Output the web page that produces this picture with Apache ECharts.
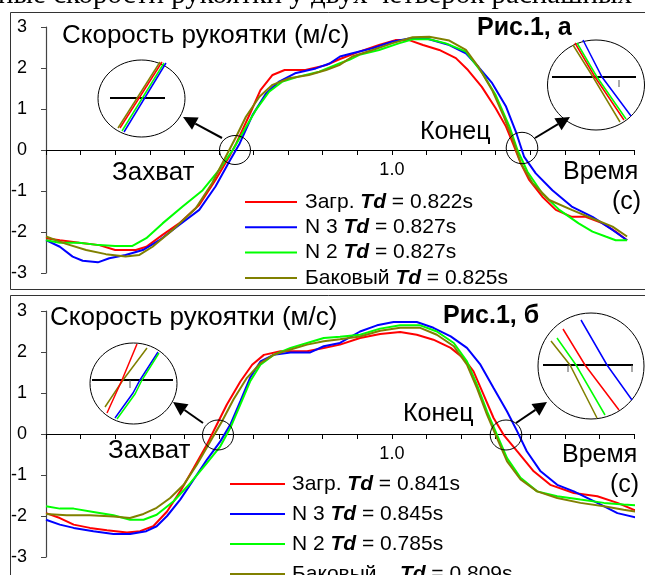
<!DOCTYPE html>
<html><head><meta charset="utf-8">
<script src="https://cdn.jsdelivr.net/npm/echarts/dist/echarts.min.js"></script>
<style>html,body{margin:0;padding:0;background:#fff}#c{width:645px;height:575px}</style>
</head><body><div id="c"></div>
<script>
// ---------- data ----------
const seriesNames = ['Загр.', 'N 3', 'N 2', 'Баковый'];
const seriesColors = ['#ff0000', '#0000ff', '#00ff00', '#808000'];
const tdA = ['0.822s', '0.827s', '0.827s', '0.825s'];
const tdB = ['0.841s', '0.845s', '0.785s', '0.809s'];
const xLabelShown = 1.0;
const yRange = [-3, 3];
const xRange = [0, 1.7];

// Рис.1, а  [time s, velocity m/s]
const a_zagr = [[0,-2.15],[0.04,-2.2],[0.096,-2.26],[0.154,-2.32],[0.2,-2.44],[0.26,-2.44],[0.29,-2.36],[0.337,-2.07],[0.385,-1.79],[0.443,-1.34],[0.49,-0.73],[0.53,-0.16],[0.55,0.16],[0.59,0.89],[0.62,1.46],[0.655,1.83],[0.69,1.95],[0.75,1.95],[0.81,2.07],[0.85,2.22],[0.906,2.4],[0.963,2.56],[1.01,2.68],[1.05,2.68],[1.09,2.56],[1.137,2.44],[1.185,2.24],[1.22,1.95],[1.26,1.54],[1.3,1.02],[1.33,0.57],[1.35,0.16],[1.373,-0.33],[1.397,-0.73],[1.435,-1.14],[1.474,-1.46],[1.52,-1.63],[1.56,-1.63],[1.61,-1.79],[1.647,-1.99],[1.68,-2.2]];
const a_n3 = [[0,-2.2],[0.04,-2.36],[0.077,-2.6],[0.106,-2.7],[0.15,-2.74],[0.183,-2.64],[0.23,-2.56],[0.28,-2.44],[0.328,-2.2],[0.385,-1.83],[0.443,-1.46],[0.49,-0.89],[0.53,-0.28],[0.56,0.16],[0.597,0.85],[0.636,1.38],[0.674,1.67],[0.72,1.87],[0.78,1.99],[0.82,2.11],[0.85,2.28],[0.886,2.36],[0.944,2.48],[1.0,2.64],[1.05,2.72],[1.1,2.72],[1.166,2.56],[1.214,2.36],[1.25,2.03],[1.29,1.63],[1.33,1.06],[1.36,0.41],[1.382,-0.16],[1.416,-0.57],[1.464,-0.98],[1.52,-1.38],[1.58,-1.63],[1.638,-1.95],[1.68,-2.2]];
const a_n2 = [[0,-2.2],[0.04,-2.26],[0.096,-2.26],[0.154,-2.32],[0.2,-2.34],[0.25,-2.34],[0.29,-2.15],[0.337,-1.79],[0.395,-1.38],[0.453,-0.98],[0.5,-0.49],[0.54,0],[0.568,0.41],[0.607,0.98],[0.645,1.42],[0.684,1.67],[0.73,1.79],[0.79,1.91],[0.848,2.11],[0.877,2.2],[0.906,2.32],[0.963,2.44],[1.02,2.6],[1.06,2.7],[1.108,2.7],[1.156,2.6],[1.214,2.4],[1.262,1.87],[1.3,1.34],[1.34,0.57],[1.363,0],[1.392,-0.53],[1.435,-1.06],[1.484,-1.46],[1.54,-1.79],[1.58,-1.99],[1.618,-2.11],[1.647,-2.2],[1.68,-2.2]];
const a_bak = [[0,-2.11],[0.058,-2.29],[0.116,-2.44],[0.173,-2.54],[0.23,-2.6],[0.27,-2.56],[0.308,-2.36],[0.366,-1.95],[0.433,-1.42],[0.48,-0.81],[0.52,-0.16],[0.55,0.33],[0.578,0.81],[0.617,1.3],[0.655,1.59],[0.703,1.75],[0.76,1.83],[0.81,1.95],[0.848,2.07],[0.886,2.28],[0.944,2.44],[1.0,2.6],[1.06,2.75],[1.108,2.76],[1.166,2.67],[1.214,2.44],[1.25,2.03],[1.29,1.46],[1.324,0.81],[1.35,0.24],[1.373,-0.33],[1.407,-0.81],[1.455,-1.22],[1.52,-1.46],[1.58,-1.67],[1.638,-1.87],[1.68,-2.11]];

// Рис.1, б
const b_zagr = [[0,-1.93],[0.04,-2.05],[0.08,-2.21],[0.127,-2.29],[0.176,-2.35],[0.234,-2.4],[0.272,-2.37],[0.31,-2.25],[0.35,-1.89],[0.388,-1.4],[0.427,-0.83],[0.465,-0.26],[0.494,0.23],[0.523,0.72],[0.562,1.28],[0.596,1.69],[0.63,1.93],[0.678,2.02],[0.755,2.02],[0.803,2.1],[0.85,2.18],[0.908,2.34],[0.966,2.44],[1.024,2.49],[1.072,2.42],[1.12,2.3],[1.17,2.1],[1.207,1.85],[1.236,1.53],[1.265,0.96],[1.294,0.39],[1.323,-0.02],[1.362,-0.42],[1.41,-0.91],[1.458,-1.24],[1.526,-1.44],[1.594,-1.52],[1.652,-1.68],[1.7,-1.85],[1.734,-1.93]];
const b_n3 = [[0,-2.09],[0.04,-2.21],[0.08,-2.29],[0.137,-2.37],[0.195,-2.44],[0.243,-2.44],[0.29,-2.37],[0.32,-2.25],[0.35,-2.0],[0.388,-1.6],[0.427,-1.11],[0.465,-0.63],[0.504,-0.18],[0.533,0.23],[0.562,0.8],[0.59,1.37],[0.62,1.77],[0.658,1.93],[0.707,1.99],[0.764,1.99],[0.803,2.14],[0.85,2.22],[0.908,2.5],[0.957,2.65],[1.005,2.73],[1.072,2.73],[1.12,2.59],[1.17,2.38],[1.217,2.1],[1.256,1.69],[1.294,1.12],[1.333,0.55],[1.362,0.07],[1.39,-0.42],[1.43,-0.91],[1.478,-1.24],[1.526,-1.4],[1.594,-1.68],[1.652,-1.93],[1.734,-2.09]];
const b_n2 = [[0,-1.76],[0.04,-1.82],[0.08,-1.82],[0.137,-1.9],[0.195,-1.98],[0.243,-2.09],[0.282,-2.09],[0.32,-1.97],[0.369,-1.64],[0.417,-1.2],[0.465,-0.71],[0.504,-0.3],[0.533,0.15],[0.562,0.72],[0.59,1.28],[0.62,1.69],[0.658,1.93],[0.707,2.1],[0.755,2.22],[0.803,2.34],[0.85,2.37],[0.908,2.42],[0.966,2.57],[1.024,2.65],[1.082,2.65],[1.13,2.5],[1.179,2.22],[1.217,1.77],[1.246,1.2],[1.275,0.55],[1.304,-0.02],[1.333,-0.59],[1.372,-1.07],[1.42,-1.4],[1.478,-1.52],[1.545,-1.6],[1.613,-1.68],[1.67,-1.72],[1.734,-1.76]];
const b_bak = [[0,-1.95],[0.06,-1.98],[0.127,-1.98],[0.195,-2.01],[0.243,-2.05],[0.282,-1.95],[0.32,-1.8],[0.359,-1.56],[0.398,-1.24],[0.436,-0.75],[0.475,-0.18],[0.509,0.31],[0.542,0.84],[0.581,1.37],[0.62,1.73],[0.658,1.93],[0.707,2.06],[0.755,2.18],[0.803,2.26],[0.85,2.31],[0.908,2.38],[0.966,2.52],[1.024,2.59],[1.082,2.59],[1.13,2.42],[1.179,2.14],[1.217,1.69],[1.246,1.12],[1.275,0.47],[1.304,-0.1],[1.333,-0.67],[1.372,-1.11],[1.42,-1.4],[1.478,-1.56],[1.545,-1.68],[1.613,-1.76],[1.67,-1.85],[1.734,-1.93]];

const panelA = [a_zagr, a_n3, a_n2, a_bak];
const panelB = [b_zagr, b_n3, b_n2, b_bak];

// ---------- chart ----------
const FONT = '"Liberation Sans", Arial, sans-serif';
const chart = echarts.init(document.getElementById('c'), null, {renderer: 'canvas'});
const GRID_H = 246;

function xAxisCfg(gi) {
  return {
    type: 'value', gridIndex: gi, min: xRange[0], max: xRange[1], interval: 0.1,
    position: 'bottom', offset: -GRID_H / 2,
    axisLine: {onZero: false, lineStyle: {color: '#000', width: 1}},
    axisTick: {show: true, length: 5, lineStyle: {color: '#000'}},
    axisLabel: {
      margin: 11, color: '#000', fontSize: 18, fontFamily: FONT,
      formatter: v => (Math.abs(v - xLabelShown) < 1e-6 ? xLabelShown.toFixed(1) : '')
    },
    splitLine: {show: false}
  };
}
function yAxisCfg(gi) {
  return {
    type: 'value', gridIndex: gi, min: yRange[0], max: yRange[1], interval: 1,
    axisLine: {show: true, onZero: false, lineStyle: {color: '#444', width: 1.2}},
    axisTick: {show: true, length: 5, lineStyle: {color: '#444'}},
    axisLabel: {margin: 19, color: '#000', fontSize: 18, fontFamily: FONT},
    splitLine: {show: false}
  };
}

const series = [];
[panelA, panelB].forEach((panel, gi) => {
  panel.forEach((d, i) => {
    series.push({
      name: seriesNames[i] + (gi === 0 ? '\u200b' : '\u200c'),
      type: 'line', xAxisIndex: gi, yAxisIndex: gi, data: d,
      showSymbol: false, symbol: 'none', clip: false, animation: false,
      lineStyle: {color: seriesColors[i], width: 2},
      itemStyle: {color: seriesColors[i]},
      z: 3 + i
    });
  });
});

function legendCfg(gi, left, top, gap, pad, itemW) {
  const tds = gi === 0 ? tdA : tdB;
  const suffix = gi === 0 ? '\u200b' : '\u200c';
  return {
    orient: 'vertical', left: left, top: top, itemGap: gap, height: 150, width: 400,
    icon: 'rect', itemWidth: itemW, itemHeight: 2,
    selectedMode: false,
    data: seriesNames.map(n => n + suffix),
    formatter: name => {
      const i = seriesNames.indexOf(name.slice(0, -1));
      const sp = (gi === 1 && i === 3) ? '    ' : ' ';
      return '{n|' + seriesNames[i] + sp + '}{b|Td}{n| = ' + tds[i] + '}';
    },
    textStyle: {
      padding: [0, 0, 0, pad], color: '#000', fontFamily: FONT, fontSize: 21, lineHeight: 21,
      rich: {
        n: {fontFamily: FONT, fontSize: 21, color: '#000', lineHeight: 21},
        b: {fontFamily: FONT, fontSize: 21, color: '#000', fontWeight: 'bold', fontStyle: 'italic', lineHeight: 21}
      }
    }
  };
}

// ---------- decorations ----------
const g = [];
function txt(s, x, y, size, opts) {
  opts = opts || {};
  g.push({type: 'text', x: x, y: y, z: 20, style: {
    text: s, fill: '#000',
    font: (opts.bold ? 'bold ' : '') + size + 'px ' + (opts.family || FONT),
    align: opts.align || 'left', verticalAlign: 'middle',
    textAlign: opts.align || 'left', textVerticalAlign: 'middle'
  }});
}
function ell(cx, cy, rx, ry, w) {
  g.push({type: 'ellipse', z: 15, shape: {cx: cx, cy: cy, rx: rx, ry: ry},
    style: {fill: 'rgba(0,0,0,0)', stroke: '#000', lineWidth: w || 1}});
}
function pl(pts, color, w) {
  g.push({type: 'polyline', z: 16, shape: {points: pts},
    style: {fill: null, stroke: color, lineWidth: w}});
}
function arrow(x1, y1, x2, y2) {
  const dx = x2 - x1, dy = y2 - y1, L = Math.hypot(dx, dy), ux = dx / L, uy = dy / L;
  const hl = 14, hw = 7;
  const bx = x2 - ux * hl, by = y2 - uy * hl;
  pl([[x1, y1], [bx, by]], '#000', 2);
  g.push({type: 'polygon', z: 17, shape: {points: [[x2, y2], [bx - uy * hw, by + ux * hw], [bx + uy * hw, by - ux * hw]]},
    style: {fill: '#000'}});
}
function rect(x, y, w, h) {
  g.push({type: 'rect', z: 1, shape: {x: x, y: y, width: w, height: h},
    style: {fill: 'rgba(0,0,0,0)', stroke: '#333', lineWidth: 1}});
}

// cut-off caption above the figure
txt('ные скорости рукоятки у двух четверок распашных', -2, -5, 29, {family: '"Liberation Serif", "Times New Roman", serif'});
// frames
rect(10.5, 12.5, 700, 277);
rect(10.5, 295.5, 700, 400);

// ---- panel а ----
txt('Скорость рукоятки (м/с)', 62, 36, 26);
txt('Рис.1, а', 477, 28, 25, {bold: true});
txt('Захват', 112, 173, 26);
txt('Конец', 420, 132, 25);
txt('Время', 563, 172, 25);
txt('(с)', 612, 202, 25);
// left magnifier
ell(141.5, 98.5, 43.5, 38.5, 1);
pl([[110, 98], [165, 98]], '#000', 2);
pl([[118, 128], [160, 62]], '#808000', 1.5);
pl([[120, 128], [162, 62]], '#ff0000', 1.5);
pl([[122, 131], [164, 63]], '#00ff00', 1.5);
pl([[124, 132], [166, 63]], '#0000ff', 1.5);
arrow(222, 138, 183, 117);
ell(235, 150, 15.5, 14.5, 1);
// right magnifier
ell(596, 85, 48.5, 45, 1);
pl([[552, 77], [636, 77]], '#000', 2);
pl([[619, 80], [619, 87]], '#555', 1);
pl([[573, 45], [593, 77], [620, 122]], '#808000', 1.5);
pl([[575, 43], [595, 77], [624, 120]], '#ff0000', 1.5);
pl([[577, 43], [597, 77], [626, 119]], '#00ff00', 1.5);
pl([[583, 40], [602, 77], [631, 116]], '#0000ff', 1.5);
arrow(535, 138, 570, 117);
ell(522, 148, 15.8, 15.7, 1);

// ---- panel б ----
txt('Скорость рукоятки (м/с)', 50, 318, 26);
txt('Рис.1, б', 443, 316, 25, {bold: true});
txt('Захват', 108, 451, 26);
txt('Конец', 403, 414, 25);
txt('Время', 562, 455, 25);
txt('(с)', 610, 485, 25);
// left magnifier
ell(133.5, 383.5, 43.5, 40.5, 1);
pl([[92, 380], [173, 380]], '#000', 2);
pl([[130, 380], [130, 388]], '#555', 1);
pl([[105, 407], [123, 380], [147, 348]], '#808000', 1.5);
pl([[107, 413], [122, 380], [137, 344]], '#ff0000', 1.5);
pl([[115, 418], [133, 393], [140, 380], [158, 352]], '#0000ff', 1.5);
pl([[117, 419], [135, 394], [142, 380], [159, 353]], '#00ff00', 1.5);
arrow(203, 423, 173, 402);
ell(218, 435, 15.5, 15, 1);
// right magnifier
ell(591, 366, 53, 53, 1);
pl([[543, 365], [633, 365]], '#000', 2);
pl([[568, 365], [568, 372]], '#555', 1);
pl([[632, 365], [632, 372]], '#555', 1);
pl([[551, 341], [570, 365], [597, 418]], '#808000', 1.5);
pl([[557, 338], [576, 365], [605, 415]], '#00ff00', 1.5);
pl([[563, 329], [585, 365], [619, 410]], '#ff0000', 1.5);
pl([[581, 320], [607, 365], [632, 400]], '#0000ff', 1.5);
arrow(516, 423, 547, 402);
ell(506, 435, 15.8, 15, 1);

chart.setOption({
  animation: false,
  backgroundColor: '#fff',
  grid: [
    {left: 46, top: 27, width: 588, height: GRID_H, containLabel: false},
    {left: 46, top: 311, width: 588, height: GRID_H, containLabel: false}
  ],
  xAxis: [xAxisCfg(0), xAxisCfg(1)],
  yAxis: [yAxisCfg(0), yAxisCfg(1)],
  legend: [legendCfg(0, 240, 186.5, 4.3, 3, 52), legendCfg(1, 225, 468.5, 9, 2, 55)],
  series: series,
  graphic: g
});
</script>
</body></html>
